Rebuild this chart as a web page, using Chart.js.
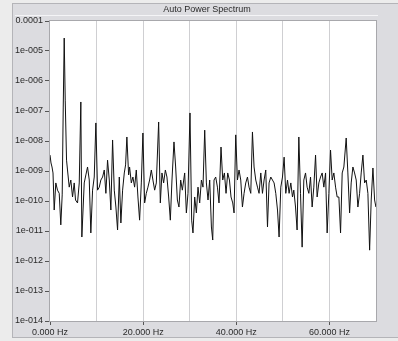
<!DOCTYPE html>
<html><head><meta charset="utf-8">
<script src="https://cdn.jsdelivr.net/npm/chart.js@4.4.1/dist/chart.umd.min.js"></script>
<style>html,body{margin:0;padding:0;background:#ebebeb;}#wrap{width:398px;height:341px;}</style>
</head><body><div id="wrap"><canvas id="c" width="398" height="341"></canvas></div>
<script>
const chartTitle = 'Auto Power Spectrum';
const freqs = [0,215,430,645,900,1250,1610,1980,2320,2620,2840,3050,3270,3550,3760,4130,4470,4840,5200,5480,5910,6280,6620,6840,7350,7700,8060,8430,8770,9140,9500,9850,10210,10580,10920,11290,11650,12000,12360,12730,13070,13440,13800,14150,14510,14880,15220,15590,15950,16230,16510,16880,17090,17460,17800,18170,18530,18880,19240,19610,19950,20320,20680,21030,21390,21760,22100,22470,22830,23330,23690,24040,24400,24770,25110,25480,25840,26190,26620,26980,27350,27690,28060,28420,28920,29280,29630,30060,30420,30700,31070,31430,31780,32140,32510,32850,33220,33580,33930,34290,34660,34940,35220,35580,35950,36290,36720,37090,37450,37800,38160,38530,38870,39240,39520,39880,40250,40590,40960,41320,41670,42030,42400,42740,43110,43470,43820,44180,44550,44890,45260,45620,45970,46330,46700,47040,47410,47770,48120,48480,48850,49190,49560,49920,50270,50630,51000,51340,51710,52070,52350,52720,53060,53430,53790,54140,54500,54870,55210,55580,55940,56290,56650,57020,57360,57730,58090,58440,58800,59170,59510,59880,60240,60590,60950,61320,61660,62030,62390,62740,63100,63600,63960,64330,64670,65040,65400,65750,66110,66480,66820,67190,67550,67900,68260,68630,68970,69340,69700,69980];
const powers = [3.4e-9,1.85e-9,1.36e-9,8.6e-10,5.0e-11,4.0e-10,2.3e-10,1.8e-10,1.6e-11,1.6e-10,1.26e-7,2.7e-5,2.3e-7,2.3e-9,1.08e-9,2.9e-10,5.0e-10,1.36e-10,4.0e-10,1.08e-10,8.6e-11,4.0e-10,2.0e-7,6.3e-12,4.0e-10,7.4e-10,1.36e-9,5.0e-10,8.6e-12,2.3e-10,6.3e-10,4.0e-8,2.3e-10,2.9e-10,5.0e-10,6.3e-10,1.08e-9,1.8e-10,2.3e-9,5.0e-10,5.0e-11,1.08e-8,2.3e-10,6.3e-11,1.08e-11,6.3e-10,1.85e-11,2.3e-10,8.6e-10,1.6e-9,1.36e-8,7.4e-10,1.36e-9,4.0e-10,6.3e-10,2.9e-10,1.08e-9,1.36e-10,2.3e-11,4.0e-10,1.85e-8,8.6e-11,1.8e-10,2.9e-10,5.0e-10,1.08e-9,5.0e-10,2.3e-10,4.0e-10,4.3e-8,8.6e-11,8.6e-10,4.0e-10,1.08e-9,6.3e-10,1.36e-10,2.3e-11,5.0e-10,9.3e-9,1.36e-9,1.08e-10,6.3e-11,5.0e-10,2.3e-10,8.6e-10,4.0e-11,1.8e-10,8.6e-8,2.3e-11,8.6e-12,1.36e-10,4.0e-11,2.9e-10,8.6e-11,5.0e-10,2.9e-10,2.3e-8,4.0e-10,1.08e-10,5.0e-10,1.36e-11,5.0e-12,5.0e-10,6.3e-10,2.9e-10,8.6e-11,6.3e-9,5.0e-10,8.6e-10,1.8e-10,8.6e-10,5.0e-10,1.36e-10,8.6e-11,4.0e-11,1.6e-8,5.0e-10,1.08e-9,5.0e-10,6.3e-11,1.8e-10,4.0e-10,6.3e-10,2.9e-10,1.8e-10,2.0e-8,1.36e-9,5.0e-10,2.9e-10,1.8e-10,8.6e-10,1.8e-10,5.0e-10,1.08e-9,1.36e-11,4.0e-10,6.3e-10,5.0e-10,4.0e-10,1.8e-10,5.0e-11,6.3e-12,2.9e-10,6.3e-10,2.9e-9,1.8e-10,5.0e-10,1.8e-10,4.0e-10,1.36e-10,2.3e-10,6.3e-11,1.08e-11,1.36e-8,1.8e-10,2.9e-12,5.0e-10,8.6e-10,2.9e-10,1.8e-10,6.3e-10,6.3e-11,2.9e-10,3.4e-9,1.36e-10,4.0e-10,6.3e-10,8.6e-10,2.9e-10,8.6e-10,8.6e-12,1.8e-10,5.0e-9,5.0e-10,8.6e-10,2.9e-10,1.36e-10,1.36e-10,8.6e-12,8.6e-10,1.36e-9,1.26e-8,8.6e-10,4.0e-11,4.0e-10,1.36e-9,8.6e-10,5.0e-10,6.3e-11,1.8e-10,8.6e-10,3.4e-9,4.0e-10,5.0e-10,1.8e-10,2.3e-12,1.08e-10,1.26e-9,1.08e-10,6.3e-11];
const yTickValues = [1e-14,1e-13,1e-12,1e-11,1e-10,1e-9,1e-8,1e-7,1e-6,1e-5,1e-4];
const yTickLabels = ['1e-014','1e-013','1e-012','1e-011','1e-010','1e-009','1e-008','1e-007','1e-006','1e-005','0.0001'];
const xTickValues = [0,20000,40000,60000];
const xTickLabels = ['0.000 Hz','20.000 Hz','40.000 Hz','60.000 Hz'];

const FONT = {family:'"Liberation Sans", Arial, sans-serif', size:9};
const points = freqs.map((f,i)=>({x:f, y:powers[i]}));

const frame = {
  id:'frame',
  beforeDraw(chart){
    const ctx = chart.ctx, a = chart.chartArea;
    ctx.save();
    ctx.fillStyle = '#ececec'; ctx.fillRect(0,0,398,341);
    ctx.fillStyle = '#dcdce0'; ctx.fillRect(12,3,386,335);
    ctx.strokeStyle = '#b4b4b8'; ctx.lineWidth = 1;
    ctx.strokeRect(12.5,3.5,390,334);
    ctx.strokeStyle = '#f4f4f6';
    ctx.beginPath(); ctx.moveTo(15,15.5); ctx.lineTo(378,15.5); ctx.stroke();
    ctx.fillStyle = '#ffffff'; ctx.fillRect(a.left,a.top,a.right-a.left,a.bottom-a.top);
    ctx.fillStyle = '#2a2a2a'; ctx.font = '9px "Liberation Sans", Arial, sans-serif';
    ctx.textAlign = 'center'; ctx.textBaseline = 'middle';
    ctx.fillText(chartTitle, 207, 9.5);
    ctx.restore();
  },
  afterDraw(chart){
    const ctx = chart.ctx, a = chart.chartArea;
    ctx.save();
    ctx.strokeStyle = '#a8a8ac'; ctx.lineWidth = 1;
    ctx.strokeRect(a.left-0.5,a.top-0.5,a.right-a.left+1,a.bottom-a.top+1);
    ctx.restore();
  }
};

new Chart(document.getElementById('c'), {
  type:'line',
  data:{datasets:[{data:points, borderColor:'#111', borderWidth:1, pointRadius:0, tension:0, fill:false}]},
  options:{
    responsive:false, animation:false, parsing:true,
    layout:{padding:{left:0,top:21,right:22,bottom:0}},
    plugins:{legend:{display:false}, tooltip:{enabled:false}, title:{display:false}},
    scales:{
      x:{type:'linear', min:0, max:70000,
        afterBuildTicks(s){ s.ticks = [0,10000,20000,30000,40000,50000,60000,70000].map(v=>({value:v})); },
        afterFit(s){ s.height = 20; },
        ticks:{autoSkip:false, maxRotation:0, font:FONT, color:'#2a2a2a', padding:2,
          callback(v){ const i = xTickValues.indexOf(v); return i>=0 ? xTickLabels[i] : ''; }},
        grid:{color:(c)=> (c.tick && (c.tick.value===0 || c.tick.value===70000)) ? 'rgba(0,0,0,0)' : '#cfcfd2',
          lineWidth:1, drawTicks:true, tickLength:4,
          tickColor:(c)=> (c.tick && xTickValues.includes(c.tick.value)) ? '#555' : 'rgba(0,0,0,0)'},
        border:{display:false}
      },
      y:{type:'logarithmic', min:1e-14, max:1e-4,
        afterBuildTicks(s){ s.ticks = yTickValues.map(v=>({value:v})); },
        afterFit(s){ s.width = 50; },
        ticks:{autoSkip:false, font:FONT, color:'#2a2a2a', padding:2,
          callback(v){ const i = yTickValues.findIndex(t=>Math.abs(Math.log10(t)-Math.log10(v))<1e-6); return i>=0 ? yTickLabels[i] : ''; }},
        grid:{drawOnChartArea:false, drawTicks:true, tickLength:5, tickColor:'#555'},
        border:{display:false}
      }
    }
  },
  plugins:[frame]
});
</script>
</body></html>
